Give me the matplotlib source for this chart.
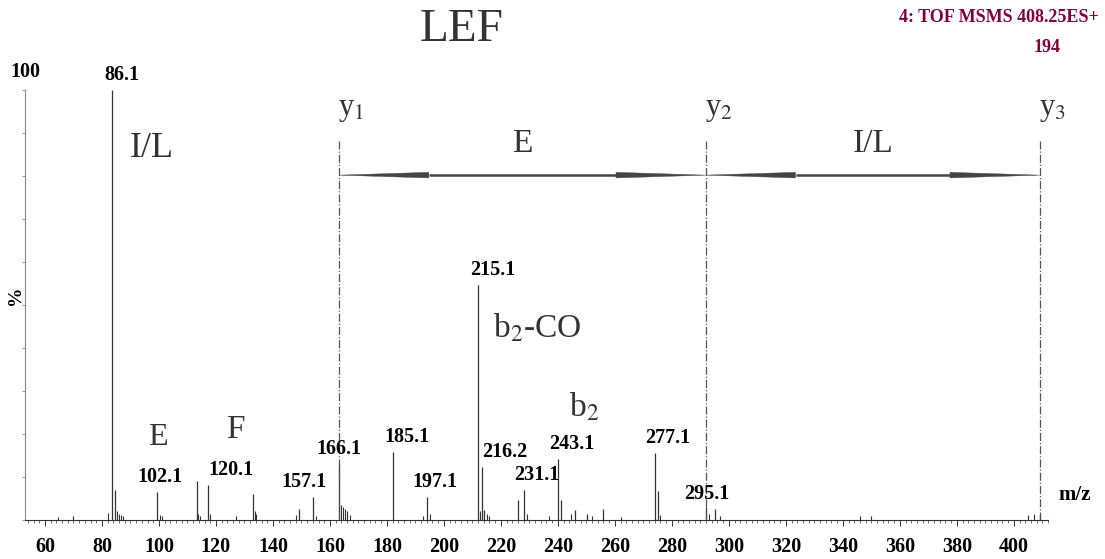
import matplotlib
matplotlib.use("Agg")
import matplotlib.pyplot as plt
from matplotlib.ticker import MultipleLocator

plt.rcParams['font.family'] = ['Liberation Serif', 'DejaVu Serif']
plt.rcParams['mathtext.fontset'] = 'stix'

# spectrum peaks (m/z as drawn on the axis, % intensity)
peak_mz = [83.5, 84.6, 99.3, 113.3, 117.2, 133.0, 149.1, 154.0, 163.2, 182.1,
           194.0, 211.9, 213.3, 214.0, 226.0, 228.1, 240.0, 241.1, 246.0,
           250.2, 255.8, 274.0, 275.1, 291.9, 295.1, 409.1]
peak_int = [100.0, 7.0, 6.5, 9.1, 8.1, 6.0, 2.6, 5.3, 13.0, 15.8,
            5.3, 54.7, 12.3, 2.3, 4.7, 7.0, 14.2, 4.7, 2.3,
            1.4, 2.6, 15.6, 6.7, 3.0, 2.6, 1.2]

# small baseline peaks
small_mz = [64.5, 70.0, 82.0, 85.3, 86.0, 86.8, 87.5, 100.2, 101.0, 113.8, 114.5,
            117.8, 127.0, 133.6, 134.2, 148.0, 155.0, 164.0, 164.6, 165.3, 166.0,
            167.0, 192.5, 195.0, 212.6, 215.0, 216.0, 229.0, 237.0, 244.5, 252.0,
            262.0, 276.0, 293.0, 297.0, 346.0, 350.0, 405.0, 407.0]
small_int = [0.8, 1.0, 1.6, 2.0, 1.5, 1.2, 1.0, 1.2, 1.0, 1.5, 1.0,
             1.4, 1.0, 2.0, 1.4, 1.2, 1.0, 3.5, 3.0, 2.5, 2.0,
             1.2, 1.0, 1.3, 2.0, 1.5, 1.0, 1.5, 1.0, 1.5, 1.0,
             0.8, 1.2, 1.5, 1.0, 1.0, 1.0, 1.2, 1.5]

# peak labels: text, index into peak list, horizontal nudge in pixels
peak_labels = [("86.1", 0, 10), ("102.1", 2, 3), ("120.1", 4, 23), ("157.1", 7, -9),
               ("166.1", 8, 0), ("185.1", 9, 14), ("197.1", 10, 8), ("215.1", 11, 15),
               ("216.2", 12, 23), ("231.1", 15, 13), ("243.1", 16, 14),
               ("277.1", 21, 13), ("295.1", 24, -8)]

# y-ion positions
y_ions = [163.2, 291.9, 409.1]
y_names = ["y$_1$", "y$_2$", "y$_3$"]
residues = ["E", "I/L"]

fig = plt.figure(figsize=(11.05, 5.59), dpi=100)
ax = fig.add_axes([25 / 1105, 39 / 559, 1023 / 1105, 430 / 559])
ax.set_xlim(53, 412)
ax.set_ylim(0, 100)

ax.vlines(small_mz, 0, small_int, color='#333333', lw=0.8)
ax.vlines(peak_mz, 0, peak_int, color='#333333', lw=0.9)

for txt, i, dx in peak_labels:
    ax.annotate(txt, (peak_mz[i], peak_int[i]), xytext=(dx, 5),
                textcoords='offset pixels', ha='center', va='bottom',
                fontsize=14.5, fontweight='bold', color='black')

# y ion markers
for x, name in zip(y_ions, y_names):
    ax.vlines(x, 0, 88.4, color='#555555', lw=0.9, linestyles='-.')
    ax.text(x - 0.4, 95.5, name, ha='left', va='center', fontsize=22, color='#333333')

# double arrows between y ions (long thin heads)
arrow_y = 80.2
head_len = 31.5   # m/z units
head_half = 0.65  # % units
for i, res in enumerate(residues):
    x0, x1 = y_ions[i], y_ions[i + 1]
    ax.plot([x0 + head_len, x1 - head_len], [arrow_y, arrow_y], color='#444444',
            lw=1.8, solid_capstyle='butt')
    ax.fill([x0, x0 + head_len, x0 + head_len], [arrow_y, arrow_y + head_half, arrow_y - head_half],
            color='#444444', lw=0.3)
    ax.fill([x1, x1 - head_len, x1 - head_len], [arrow_y, arrow_y + head_half, arrow_y - head_half],
            color='#444444', lw=0.3)
    ax.text((x0 + x1) / 2, 87.5, res, ha='center', va='center', fontsize=24,
            color='#333333')

# fragment annotations
ax.text(97.5, 86.3, "I/L", ha='center', va='center', fontsize=26, color='#333333')
ax.text(99.6, 19.3, "E", ha='center', va='center', fontsize=23, color='#333333')
ax.text(126.7, 20.9, "F", ha='center', va='center', fontsize=24, color='#333333')
ax.text(217.2, 44.7, "b$_2$-CO", ha='left', va='center', fontsize=24, color='#333333')
ax.text(243.9, 26.3, "b$_2$", ha='left', va='center', fontsize=24, color='#333333')

for s in ['top', 'right']:
    ax.spines[s].set_visible(False)
ax.spines['left'].set_color('#888888')
ax.spines['left'].set_linewidth(0.8)
ax.spines['bottom'].set_color('#333333')
ax.spines['bottom'].set_linewidth(0.8)

ax.xaxis.set_major_locator(MultipleLocator(20))
ax.xaxis.set_minor_locator(MultipleLocator(2))
ax.set_xticks(range(60, 401, 20))
ax.tick_params(axis='x', which='major', length=4, width=0.7, color='#333333',
               labelsize=14.5, pad=8)
ax.tick_params(axis='x', which='minor', length=2, width=0.5, color='#333333')
for lab in ax.get_xticklabels():
    lab.set_fontweight('bold')
ax.yaxis.set_major_locator(MultipleLocator(10))
ax.tick_params(axis='y', which='major', length=2, width=0.6, color='#888888',
               labelleft=False)

# outside texts
fig.text(462 / 1105, 1 - 30 / 559, "LEF", ha='center', va='center', fontsize=34,
         color='#333333')
fig.text(25 / 1105, 1 - 72 / 559, "100", ha='center', va='center', fontsize=14.5,
         fontweight='bold')
fig.text(16 / 1105, 1 - 295 / 559, "%", ha='center', va='center', fontsize=14,
         fontweight='bold', rotation=90)
fig.text(1075 / 1105, 1 - 495 / 559, "m/z", ha='center', va='center', fontsize=15,
         fontweight='bold')
fig.text(1099 / 1105, 1 - 17 / 559, "4: TOF MSMS 408.25ES+", ha='right', va='center',
         fontsize=13, fontweight='bold', color='#800040')
fig.text(1047 / 1105, 1 - 48 / 559, "194", ha='center', va='center', fontsize=13,
         fontweight='bold', color='#800040')

fig.savefig("out.png", dpi=100)
